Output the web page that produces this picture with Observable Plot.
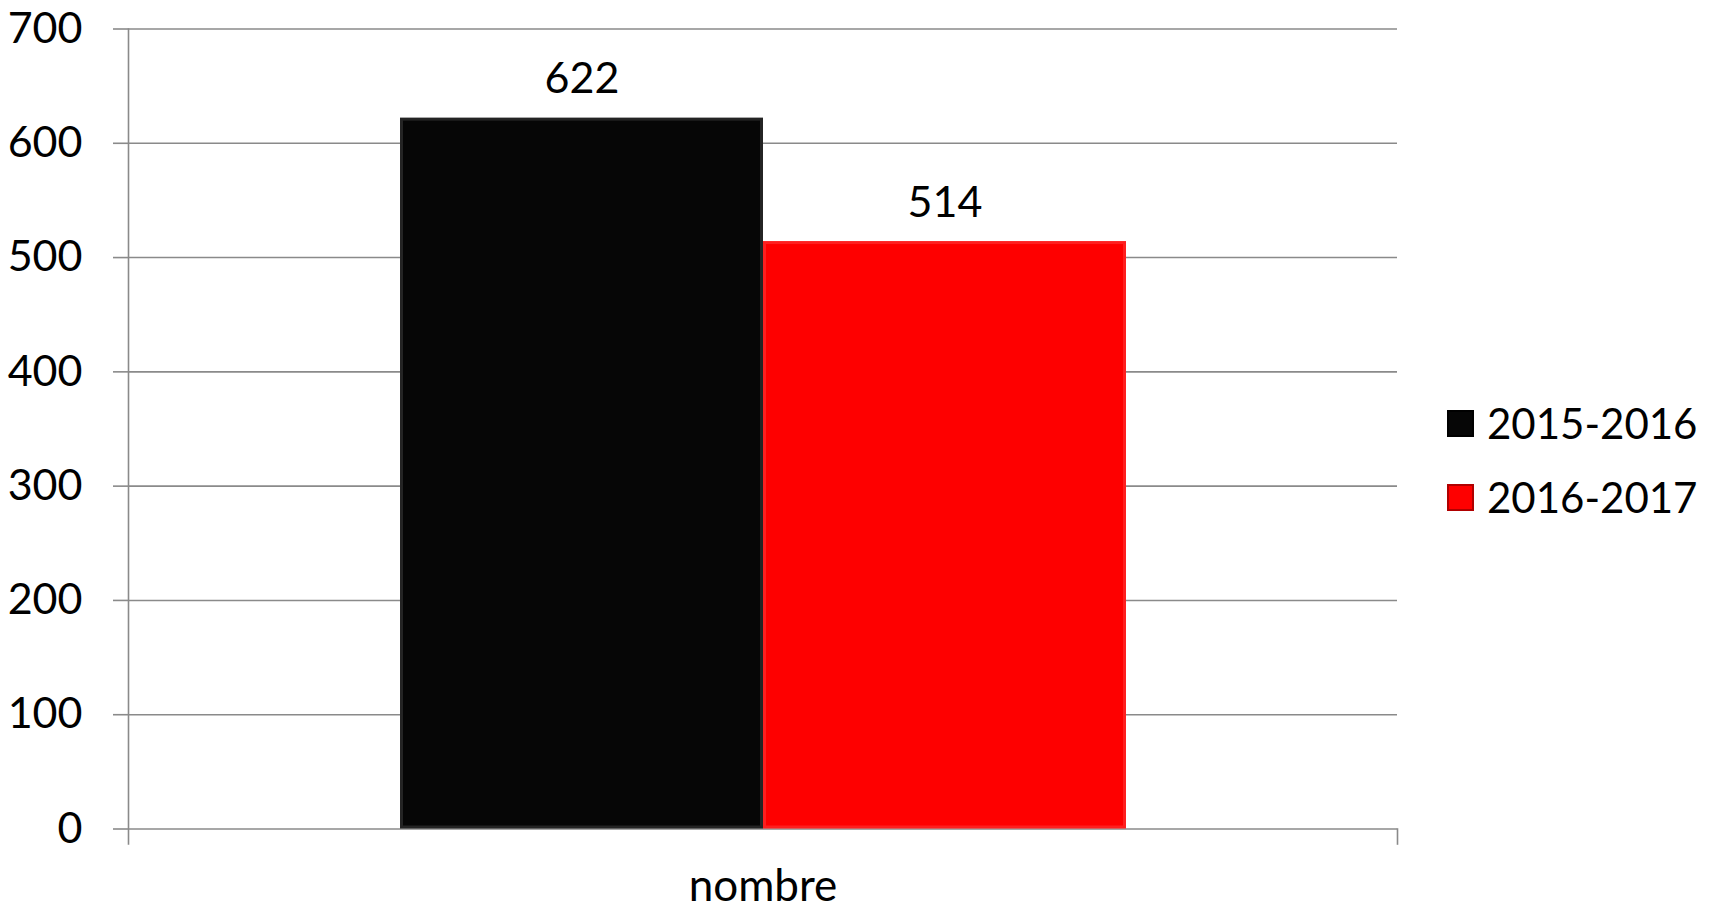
<!DOCTYPE html>
<html>
<head>
<meta charset="utf-8">
<script src="https://cdn.jsdelivr.net/npm/d3@7"></script>
<script src="https://cdn.jsdelivr.net/npm/@observablehq/plot@0.6"></script>
<style>
  html, body { margin: 0; padding: 0; background: #fff; }
  #wrap { position: relative; width: 1713px; height: 909px; font-family: Lato, "Open Sans", sans-serif; }
  #legend { position: absolute; left: 1447px; top: 398px; font-size: 42px; color: #000; }
  .item { display: flex; align-items: center; height: 50px; margin-bottom: 24px; }
  .sw { width: 27px; height: 27px; margin-right: 13px; box-sizing: border-box; }
</style>
</head>
<body>
<div id="wrap">
  <div id="chart"></div>
  <div id="legend"></div>
</div>
<script>
const categories = ["nombre"];
const seriesNames = ["2015-2016", "2016-2017"];
const values = [622, 514];
const colors = ["#060606", "#fe0000"];
const yTicks = [0, 100, 200, 300, 400, 500, 600, 700];

const data = seriesNames.map((s, i) => ({series: s, value: values[i], category: categories[0]}));

const W = 1713, H = 909;
const mL = 128, mR = 316, mT = 28.5, mB = 80.5;
const plotH = H - mT - mB;
const grid = "#8a8a8a";

const chart = Plot.plot({
  width: W,
  height: H,
  marginLeft: mL,
  marginRight: mR,
  marginTop: mT,
  marginBottom: mB,
  style: {fontFamily: "Lato, 'Open Sans', sans-serif", background: "#fff", color: "#000"},
  x: {domain: seriesNames, paddingInner: 0, paddingOuter: 0.7455, axis: null},
  y: {domain: [0, 700], axis: null},
  color: {domain: seriesNames, range: colors},
  marks: [
    Plot.ruleY(yTicks, {stroke: grid, strokeWidth: 1.6}),
    Plot.axisY({ticks: yTicks, tickSize: 15, tickPadding: 31, fontSize: 43, stroke: grid, strokeWidth: 1.6, tickFormat: d => String(d), label: null}),
    Plot.frame({anchor: "left", stroke: grid, strokeWidth: 1.6, insetBottom: -15}),
    Plot.frame({anchor: "right", stroke: grid, strokeWidth: 1.6, insetTop: plotH, insetBottom: -15}),
    Plot.barY(data, {x: "series", y: "value", fill: "series"}),
    Plot.barY(data, {x: "series", y: "value", fill: "none", stroke: "#ffffff", strokeOpacity: 0.12, strokeWidth: 3, inset: 1.5}),
    Plot.text(data, {x: "series", y: "value", text: d => String(d.value), dy: -25, lineAnchor: "bottom", fontSize: 43, fill: "#000"}),
    Plot.text(categories, {frameAnchor: "bottom", text: d => d, dy: 72, lineAnchor: "bottom", fontSize: 44, fill: "#000"})
  ]
});
document.getElementById("chart").appendChild(chart);

const legend = document.getElementById("legend");
seriesNames.forEach((s, i) => {
  const item = document.createElement("div");
  item.className = "item";
  const sw = document.createElement("div");
  sw.className = "sw";
  sw.style.background = colors[i];
  sw.style.border = "2px solid " + (i === 0 ? "#000" : "#b00000");
  const t = document.createElement("span");
  t.textContent = s;
  item.appendChild(sw);
  item.appendChild(t);
  legend.appendChild(item);
});
</script>
</body>
</html>
